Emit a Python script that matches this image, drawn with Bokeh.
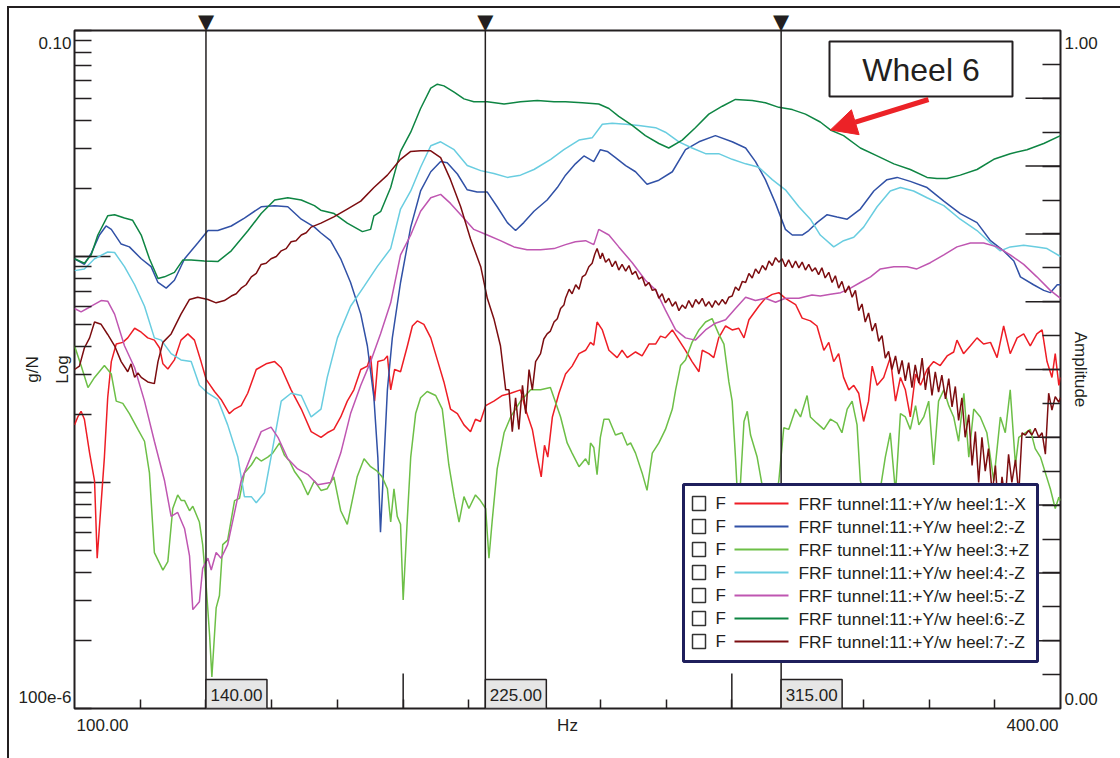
import math
import numpy as np
from bokeh.plotting import figure
from bokeh.models import (Range1d, LinearAxis, LinearScale, FixedTicker, Span, Label,
                          BoxAnnotation, Arrow, NormalHead)
from bokeh.embed import file_html
from bokeh.resources import INLINE

# ---------------------------------------------------------------------------
# FRF magnitudes: (frequency in Hz, level in dB re 1 g/N)
# ---------------------------------------------------------------------------
heel1 = [
    (100.0, -54.9), (101.0, -54.2), (102.0, -53.7), (103.0, -54.4), (104.6, -57.4), (106.1, -59.85),
    (106.9, -66.7), (107.9, -62.65), (109.1, -57.75), (110.1, -52.5), (111.2, -49.3), (112.7, -47.75),
    (114.7, -47.6), (116.2, -47.2), (118.3, -46.35), (120.3, -46.7), (122.3, -47.2), (124.3, -47.4),
    (125.9, -48.1), (126.9, -49.5), (128.4, -49.95), (130.4, -49.15), (132.4, -47.4), (134.5, -46.85),
    (136.5, -47.4), (138.5, -49.3), (140.1, -50.9), (142.6, -51.95), (144.6, -52.65), (147.1, -53.9),
    (148.7, -53.5), (150.7, -53.2), (152.7, -52.1), (155.3, -50.0), (158.3, -49.5), (160.9, -49.3),
    (162.9, -49.85), (165.9, -51.8), (169.0, -53.5), (172.0, -55.5), (175.0, -56.0), (176.9, -55.6),
    (178.9, -55.3), (181.0, -54.2), (183.0, -52.8), (185.0, -51.8), (187.1, -50.0), (189.1, -49.7),
    (190.1, -48.8), (191.3, -52.8), (192.3, -49.3), (194.2, -49.15), (195.2, -48.8), (196.2, -51.8),
    (197.4, -50.0), (199.2, -50.2), (201.3, -47.9), (202.8, -46.15), (204.3, -45.7), (206.3, -46.0),
    (208.4, -47.2), (210.4, -49.15), (212.4, -51.1), (214.4, -53.5), (216.5, -53.9), (218.5, -54.9),
    (220.5, -55.5), (222.0, -54.4), (223.5, -54.6), (225.1, -53.2), (227.6, -52.8), (230.2, -52.3),
    (232.7, -52.1), (235.7, -51.8), (237.2, -53.5), (239.3, -55.3), (240.8, -57.75), (242.0, -59.5),
    (243.0, -56.7), (244.0, -57.75), (245.4, -54.2), (247.4, -52.1), (249.4, -50.4), (251.4, -49.7),
    (253.5, -48.6), (255.5, -48.3), (257.0, -47.6), (258.0, -47.85), (259.0, -45.8), (260.6, -46.5),
    (262.6, -48.3), (265.1, -48.95), (266.6, -48.3), (268.2, -48.95), (270.7, -48.45), (272.7, -48.8),
    (274.8, -47.75), (276.8, -47.75), (278.3, -47.05), (279.8, -47.2), (281.9, -46.5), (283.9, -47.4),
    (285.9, -48.3), (287.9, -49.3), (290.0, -50.2), (291.0, -48.3), (293.0, -48.6), (294.5, -48.95),
    (296.0, -47.2), (298.1, -46.15), (300.1, -46.5), (302.1, -46.35), (303.7, -47.2), (305.2, -45.6),
    (308.2, -44.4), (310.2, -43.7), (312.3, -43.35), (314.3, -43.2), (316.3, -43.7), (319.4, -44.25),
    (321.4, -45.45), (323.9, -45.7), (325.9, -46.15), (328.0, -48.3), (329.5, -47.6), (331.0, -49.3),
    (332.5, -48.6), (334.0, -50.7), (335.6, -51.8), (337.1, -51.4), (338.6, -52.1), (340.1, -54.6),
    (341.6, -52.8), (342.7, -49.7), (344.2, -51.4), (346.2, -50.7), (348.2, -48.95), (349.8, -52.8),
    (351.3, -50.7), (352.8, -51.8), (354.3, -54.2), (355.9, -50.4), (357.4, -51.4), (359.4, -50.0),
    (361.4, -49.3), (363.4, -49.65), (365.5, -48.8), (367.5, -48.45), (368.5, -47.4), (370.5, -48.6),
    (372.6, -47.9), (374.6, -47.2), (376.6, -47.75), (378.7, -47.6), (380.7, -48.95), (382.7, -46.15),
    (384.7, -48.6), (386.8, -47.2), (388.8, -46.85), (390.8, -47.9), (392.8, -46.85), (394.4, -46.5),
    (395.9, -49.3), (397.4, -50.7), (398.4, -48.6), (399.5, -51.4), (400.0, -50.7),
]

heel2 = [
    (100.0, -40.2), (103.0, -40.7), (105.1, -39.7), (107.6, -38.1), (109.6, -37.3), (111.2, -37.6),
    (114.2, -38.9), (116.7, -39.15), (120.3, -40.2), (123.3, -40.9), (125.4, -42.3), (127.9, -42.8),
    (130.4, -42.1), (133.5, -40.2), (137.5, -38.8), (140.6, -37.7), (143.6, -37.7), (147.7, -37.3),
    (151.7, -36.6), (156.8, -35.6), (160.9, -35.5), (164.9, -35.6), (169.0, -36.7), (173.0, -37.4),
    (174.9, -37.9), (177.9, -38.6), (181.0, -40.2), (184.0, -42.3), (187.1, -45.1), (189.1, -47.9),
    (191.1, -52.5), (192.3, -57.8), (193.1, -64.4), (194.2, -57.8), (195.2, -51.8), (196.7, -47.2),
    (199.2, -42.3), (202.3, -37.4), (205.3, -34.2), (208.4, -32.5), (211.4, -31.6), (213.4, -31.7),
    (216.5, -32.7), (219.5, -34.1), (222.5, -34.3), (225.6, -34.3), (228.6, -35.6), (231.7, -37.0),
    (234.2, -37.7), (236.7, -37.0), (239.8, -36.0), (243.8, -35.0), (246.9, -33.9), (249.4, -32.8),
    (252.4, -31.8), (255.0, -31.1), (258.0, -31.6), (260.0, -30.55), (262.1, -30.7), (264.6, -31.25),
    (267.7, -31.95), (270.7, -32.5), (274.2, -33.6), (277.8, -33.25), (281.9, -32.5), (285.9, -30.55),
    (290.0, -29.85), (295.0, -29.3), (300.1, -29.85), (304.2, -30.4), (307.2, -31.6), (310.2, -33.2),
    (313.3, -35.3), (316.3, -37.6), (318.4, -38.1), (321.4, -38.1), (323.4, -37.7), (325.9, -37.0),
    (329.0, -36.3), (332.0, -36.5), (335.1, -36.7), (339.1, -35.8), (343.2, -34.2), (347.2, -33.2),
    (350.3, -33.0), (354.3, -33.35), (359.4, -33.9), (364.5, -35.1), (369.5, -36.2), (374.6, -37.0),
    (378.7, -38.6), (382.7, -39.5), (385.8, -40.4), (387.8, -41.8), (391.8, -42.5), (394.9, -43.0),
    (396.9, -43.2), (399.0, -42.5), (400.0, -42.5),
]

heel3 = [
    (100.0, -47.9), (102.0, -49.65), (104.1, -51.6), (106.1, -50.7), (109.1, -49.65), (111.2, -50.4),
    (112.7, -52.8), (114.7, -53.0), (116.7, -53.9), (119.3, -55.3), (121.3, -56.35), (122.8, -59.15),
    (124.3, -66.2), (126.9, -67.75), (128.4, -67.0), (129.9, -62.3), (131.4, -61.1), (132.5, -61.6),
    (133.5, -61.6), (135.0, -62.5), (136.0, -62.1), (138.0, -63.5), (139.0, -65.5), (140.1, -69.3),
    (141.1, -73.5), (141.8, -77.2), (143.1, -71.1), (144.1, -70.0), (145.1, -65.5), (146.6, -65.1),
    (148.7, -61.6), (150.2, -61.4), (151.7, -59.15), (153.8, -58.45), (155.3, -57.75), (156.8, -58.1),
    (158.8, -57.75), (160.3, -57.4), (162.4, -56.5), (163.9, -57.6), (165.4, -58.1), (166.9, -59.0),
    (169.0, -59.85), (171.0, -61.1), (173.0, -59.85), (175.0, -60.7), (176.9, -60.55), (178.9, -59.5),
    (181.0, -62.5), (183.0, -63.7), (184.5, -61.6), (186.0, -59.5), (188.1, -57.9), (190.1, -58.6),
    (192.1, -59.0), (193.6, -59.5), (195.2, -60.55), (196.2, -63.5), (197.2, -60.55), (198.2, -63.0),
    (199.2, -63.7), (200.0, -70.4), (201.3, -63.0), (202.3, -57.75), (203.8, -53.9), (205.3, -52.5),
    (207.3, -51.95), (209.9, -52.3), (211.9, -53.5), (213.9, -58.45), (215.5, -61.25), (217.0, -63.5),
    (218.5, -61.25), (220.0, -62.3), (222.0, -61.1), (223.5, -61.6), (225.1, -62.3), (226.1, -66.7),
    (227.1, -63.35), (228.6, -58.8), (230.7, -55.6), (232.7, -54.2), (235.7, -52.8), (238.8, -51.8),
    (241.8, -51.8), (244.8, -51.6), (247.9, -54.2), (249.9, -56.5), (251.4, -57.4), (253.5, -58.6),
    (255.5, -57.9), (256.5, -58.45), (257.0, -56.5), (258.0, -56.9), (259.0, -59.3), (260.0, -56.0),
    (261.1, -54.4), (262.6, -54.4), (264.6, -55.8), (266.6, -55.6), (268.2, -56.7), (269.2, -56.5),
    (270.7, -57.4), (272.7, -59.15), (274.2, -60.7), (275.8, -57.4), (277.8, -56.5), (279.8, -55.3),
    (281.9, -53.5), (282.9, -51.8), (284.4, -49.65), (285.9, -49.15), (287.9, -47.6), (290.0, -46.5),
    (292.0, -45.8), (294.0, -45.5), (296.0, -46.85), (297.6, -47.75), (299.1, -51.1), (300.1, -52.8),
    (301.1, -57.75), (301.6, -60.55), (302.6, -60.2), (303.7, -54.6), (304.7, -53.7), (305.7, -55.8),
    (307.7, -57.75), (309.2, -60.2), (311.0, -63.0), (312.8, -62.0), (314.3, -59.85), (315.8, -55.15),
    (317.3, -55.3), (319.4, -53.5), (320.9, -54.2), (322.9, -52.3), (323.9, -54.2), (325.9, -54.75),
    (328.0, -55.3), (330.0, -54.4), (332.0, -54.75), (333.5, -55.6), (335.1, -53.5), (336.6, -52.8),
    (338.1, -54.9), (339.1, -59.85), (340.6, -61.3), (343.0, -62.0), (345.2, -60.55), (346.7, -57.75),
    (348.2, -55.6), (349.8, -60.9), (351.3, -53.9), (352.8, -54.2), (354.3, -55.3), (355.9, -53.2),
    (356.9, -54.9), (358.4, -54.2), (359.9, -52.8), (361.4, -58.45), (362.9, -52.8), (364.5, -51.8),
    (366.0, -53.2), (367.5, -54.2), (369.0, -56.35), (370.6, -52.1), (372.1, -57.75), (373.6, -53.5),
    (375.6, -54.2), (377.6, -55.6), (379.7, -59.85), (381.7, -54.2), (383.2, -55.6), (384.7, -51.8),
    (386.3, -58.45), (387.3, -56.0), (389.3, -55.6), (390.8, -55.3), (392.3, -57.0), (393.9, -57.75),
    (395.4, -59.15), (396.9, -60.55), (398.4, -62.3), (399.5, -61.3), (400.0, -61.6),
]

heel4 = [
    (100.0, -41.25), (103.0, -41.1), (106.1, -40.2), (110.1, -39.6), (112.2, -39.65), (115.2, -40.9),
    (118.3, -42.5), (121.3, -44.4), (124.3, -47.2), (126.4, -47.4), (129.4, -48.6), (132.4, -49.15),
    (135.5, -49.3), (138.0, -51.4), (140.6, -52.1), (143.6, -52.65), (146.6, -54.9), (149.7, -57.75),
    (151.7, -61.25), (153.8, -61.25), (155.3, -61.8), (157.8, -60.9), (159.8, -57.75), (162.9, -52.8),
    (165.9, -52.1), (169.0, -52.3), (172.0, -54.2), (175.0, -53.5), (176.9, -50.7), (180.0, -47.2),
    (184.0, -44.4), (188.1, -42.65), (192.1, -40.9), (196.2, -39.3), (199.2, -35.8), (202.3, -34.2),
    (205.3, -32.1), (208.4, -30.2), (211.4, -29.85), (215.5, -30.55), (219.5, -31.95), (223.6, -32.4),
    (227.6, -32.65), (231.7, -33.0), (235.7, -32.8), (239.8, -32.3), (244.9, -31.4), (248.9, -30.55),
    (253.5, -29.7), (257.5, -29.5), (260.6, -28.3), (263.6, -28.2), (267.7, -28.3), (271.7, -28.4),
    (276.8, -28.6), (279.8, -29.0), (283.9, -29.85), (287.9, -30.4), (292.0, -30.9), (296.0, -30.9),
    (300.1, -31.4), (304.2, -31.8), (308.2, -32.1), (312.3, -33.2), (316.3, -34.1), (320.4, -35.6),
    (323.9, -36.7), (326.9, -38.1), (331.0, -39.15), (334.0, -38.6), (337.1, -38.3), (340.1, -37.4),
    (344.2, -35.6), (348.2, -34.2), (351.3, -33.9), (355.3, -34.2), (359.4, -34.8), (364.5, -35.5),
    (369.5, -36.7), (374.6, -37.7), (378.7, -38.8), (381.7, -39.5), (384.7, -39.15), (388.8, -39.0),
    (392.8, -39.15), (395.9, -39.3), (400.0, -40.0),
]

heel5 = [
    (100.0, -44.6), (102.0, -44.9), (105.1, -44.4), (108.1, -43.9), (110.1, -43.95), (112.2, -45.1),
    (115.2, -47.9), (118.3, -49.85), (121.3, -52.8), (124.3, -56.35), (127.4, -59.85), (129.4, -63.0),
    (131.4, -62.65), (133.5, -64.1), (135.0, -66.5), (136.0, -71.25), (138.0, -70.55), (139.0, -67.6),
    (140.6, -66.7), (141.6, -67.75), (143.1, -66.2), (144.6, -66.7), (146.6, -65.5), (148.7, -62.65),
    (150.7, -59.85), (153.8, -57.6), (156.8, -55.5), (159.8, -55.1), (161.9, -56.0), (164.9, -57.9),
    (167.9, -58.8), (171.0, -59.3), (174.0, -60.2), (177.9, -60.0), (181.0, -57.4), (184.0, -53.9),
    (187.1, -51.4), (190.1, -49.3), (193.1, -46.85), (196.2, -44.1), (199.2, -39.85), (202.3, -38.1),
    (205.3, -36.0), (208.4, -34.8), (211.4, -34.5), (214.4, -35.3), (217.5, -36.3), (221.5, -37.6),
    (225.6, -38.1), (229.6, -38.6), (233.7, -39.15), (237.7, -39.4), (241.8, -39.4), (245.9, -39.3),
    (249.4, -38.95), (252.4, -38.7), (255.5, -38.6), (258.0, -38.95), (259.5, -37.6), (262.6, -38.1),
    (265.6, -39.15), (269.7, -40.55), (273.7, -42.1), (276.8, -42.95), (279.8, -44.75), (282.9, -46.5),
    (285.9, -47.2), (288.9, -47.4), (292.0, -46.5), (295.0, -45.9), (298.1, -45.6), (301.1, -44.6),
    (304.2, -43.6), (307.2, -43.9), (310.2, -43.7), (313.3, -44.05), (316.3, -43.7), (320.4, -43.7),
    (324.4, -43.4), (326.9, -43.5), (330.0, -43.35), (333.1, -43.2), (336.1, -42.8), (339.1, -42.3),
    (342.2, -41.8), (345.2, -41.1), (349.3, -40.9), (353.3, -40.9), (356.3, -41.1), (360.4, -40.55),
    (364.5, -39.85), (368.5, -39.15), (372.6, -38.8), (376.6, -38.8), (380.7, -39.15), (384.7, -39.85),
    (388.8, -40.7), (392.8, -41.8), (396.9, -43.0), (400.0, -43.7),
]

heel6 = [
    (100.0, -40.2), (103.0, -40.6), (105.1, -39.85), (107.1, -38.1), (110.1, -36.4), (112.2, -36.3),
    (115.2, -36.6), (117.7, -36.8), (120.3, -38.1), (122.8, -40.2), (125.4, -41.95), (127.4, -41.8),
    (130.4, -41.4), (133.0, -40.3), (135.5, -40.3), (139.5, -40.4), (143.6, -40.45), (147.7, -39.5),
    (152.7, -37.75), (156.8, -36.2), (160.9, -35.0), (164.9, -34.8), (169.0, -35.0), (173.0, -35.5),
    (174.9, -35.9), (179.0, -36.2), (183.0, -37.05), (187.6, -37.8), (190.1, -37.6), (191.1, -36.4),
    (193.2, -36.0), (196.2, -33.9), (199.2, -30.7), (202.3, -29.0), (205.3, -26.9), (208.4, -25.1),
    (210.4, -24.75), (212.4, -24.9), (215.5, -25.45), (218.5, -26.05), (221.5, -26.3), (225.6, -26.3),
    (230.7, -26.5), (235.7, -26.3), (240.8, -26.2), (245.9, -26.3), (249.4, -26.3), (254.5, -26.4),
    (259.5, -26.5), (262.6, -26.9), (265.6, -27.6), (269.7, -28.4), (273.7, -29.3), (277.8, -30.0),
    (280.8, -30.4), (284.9, -29.7), (288.9, -28.6), (293.0, -27.4), (297.1, -26.7), (301.1, -26.1),
    (306.2, -26.2), (310.2, -26.4), (314.3, -26.8), (318.4, -27.0), (322.4, -27.4), (326.9, -28.1),
    (330.0, -28.8), (334.0, -29.3), (339.1, -30.4), (344.2, -31.1), (349.3, -31.8), (354.3, -32.3),
    (359.4, -33.0), (362.4, -33.1), (365.5, -33.1), (369.5, -32.8), (374.6, -32.3), (379.7, -31.4),
    (384.7, -30.9), (389.8, -30.55), (394.9, -30.0), (400.0, -29.3),
]

heel7 = [
    (100.0, -50.0), (101.5, -49.7), (103.0, -48.1), (104.6, -47.2), (106.1, -45.8), (108.1, -46.0),
    (110.1, -46.9), (112.2, -47.9), (114.2, -49.3), (116.2, -50.2), (117.2, -49.5), (118.3, -50.7),
    (119.3, -50.3), (120.3, -50.7), (122.3, -51.1), (124.3, -51.25), (125.4, -49.3), (126.9, -47.6),
    (129.4, -46.85), (132.4, -45.1), (135.0, -43.8), (137.5, -43.6), (140.6, -43.8), (143.1, -44.1),
    (145.6, -43.9), (147.7, -43.5), (149.2, -43.3), (150.7, -42.8), (152.2, -42.5), (153.8, -41.8),
    (155.3, -41.5), (156.8, -40.7), (158.3, -40.6), (159.8, -40.2), (161.4, -40.0), (162.9, -39.5),
    (164.4, -39.3), (165.9, -38.7), (167.4, -38.6), (169.0, -38.1), (170.5, -37.9), (172.0, -37.4),
    (175.0, -37.05), (178.9, -36.5), (183.0, -35.8), (187.1, -35.1), (191.1, -33.9), (195.2, -32.8),
    (199.2, -31.4), (202.3, -30.7), (205.3, -30.65), (208.4, -30.65), (211.4, -31.25), (214.4, -33.2),
    (217.5, -35.6), (220.5, -38.45), (223.6, -40.9), (225.6, -43.7), (227.6, -45.5), (229.6, -47.9),
    (231.2, -51.8), (232.2, -51.8), (233.2, -55.5), (234.2, -52.5), (235.2, -55.3), (236.3, -51.4),
    (237.3, -53.9), (238.3, -50.0), (239.3, -51.8), (240.3, -49.3), (241.8, -48.6), (242.8, -47.3),
    (243.8, -46.85), (244.8, -46.6), (245.9, -45.8), (246.9, -45.5), (247.9, -44.6), (248.9, -44.3),
    (249.4, -43.7), (250.5, -42.9), (251.4, -43.3), (252.5, -42.5), (253.5, -42.9), (254.5, -41.8),
    (255.5, -41.6), (256.5, -40.9), (257.5, -40.6), (258.3, -39.8), (259.0, -39.3), (260.0, -40.2),
    (260.6, -39.7), (261.6, -40.5), (262.6, -40.2), (263.6, -40.9), (264.6, -40.4), (265.6, -41.2),
    (266.6, -40.7), (267.7, -41.3), (268.7, -40.8), (269.7, -41.6), (270.7, -41.3), (271.7, -42.0),
    (272.7, -41.8), (273.7, -42.6), (274.8, -42.3), (275.8, -43.0), (276.8, -42.9), (277.8, -43.7),
    (278.8, -43.3), (279.8, -44.1), (280.8, -43.7), (281.9, -44.4), (282.9, -44.0), (283.9, -44.8),
    (284.9, -44.3), (285.9, -44.6), (286.9, -43.9), (288.0, -44.5), (289.0, -43.8), (290.0, -44.2),
    (291.0, -43.7), (292.0, -44.4), (293.0, -44.0), (294.0, -44.5), (295.0, -43.9), (296.0, -44.3),
    (297.1, -43.8), (298.1, -44.2), (299.1, -43.6), (300.1, -43.5), (301.1, -42.7), (302.1, -43.0),
    (303.2, -42.2), (304.2, -42.3), (305.2, -41.5), (306.2, -41.9), (307.2, -41.1), (308.2, -41.5),
    (309.3, -40.8), (310.3, -41.2), (311.3, -40.4), (312.3, -40.8), (313.3, -40.1), (314.3, -40.5),
    (315.3, -40.2), (316.3, -40.9), (317.3, -40.3), (318.4, -41.0), (319.4, -40.4), (320.4, -41.0),
    (321.4, -40.5), (322.4, -41.2), (323.4, -40.7), (324.4, -41.3), (325.4, -41.0), (326.4, -41.6),
    (327.4, -41.0), (328.4, -41.9), (329.5, -41.4), (330.5, -42.3), (331.5, -41.7), (332.5, -42.8),
    (333.5, -42.2), (334.5, -43.2), (335.6, -42.6), (336.6, -43.6), (337.6, -43.0), (338.6, -44.8),
    (339.6, -44.2), (340.6, -45.8), (341.6, -45.0), (342.7, -46.6), (343.7, -45.9), (344.7, -47.5),
    (345.7, -47.0), (346.7, -49.0), (347.7, -48.4), (348.7, -50.0), (349.8, -48.8), (350.8, -50.4),
    (351.8, -49.2), (352.8, -51.0), (353.8, -49.4), (354.8, -51.6), (355.8, -49.6), (356.9, -51.2),
    (357.9, -49.0), (358.9, -51.8), (359.9, -49.8), (360.9, -52.3), (361.9, -50.2), (362.9, -52.0),
    (363.9, -50.5), (365.0, -52.6), (366.0, -50.8), (367.0, -53.3), (368.0, -51.5), (369.0, -54.5),
    (370.0, -52.5), (371.0, -56.0), (372.1, -54.0), (373.1, -58.5), (374.1, -55.5), (375.1, -60.0),
    (376.1, -56.0), (377.1, -59.0), (378.1, -57.0), (379.2, -61.0), (380.2, -58.5), (381.2, -63.0),
    (382.2, -59.5), (383.2, -61.5), (384.2, -57.5), (385.2, -60.0), (386.3, -58.0), (387.3, -61.0),
    (388.3, -55.6), (389.3, -55.8), (390.3, -55.4), (391.3, -55.8), (392.3, -55.2), (393.4, -56.0),
    (394.4, -55.6), (395.4, -57.5), (396.4, -52.1), (397.4, -53.6), (398.4, -52.4), (399.5, -52.9),
    (400.0, -52.5),
]

LABELS = [
    "FRF tunnel:11:+Y/w heel:1:-X",
    "FRF tunnel:11:+Y/w heel:2:-Z",
    "FRF tunnel:11:+Y/w heel:3:+Z",
    "FRF tunnel:11:+Y/w heel:4:-Z",
    "FRF tunnel:11:+Y/w heel:5:-Z",
    "FRF tunnel:11:+Y/w heel:6:-Z",
    "FRF tunnel:11:+Y/w heel:7:-Z",
]
COLORS = ["#ee1d25", "#3151a6", "#6dbf47", "#69cde0", "#bf56b1", "#0e8543", "#7c0d10"]
TRACES = [heel1, heel2, heel3, heel4, heel5, heel6, heel7]

CURSORS = [140.0, 225.0, 315.0]
CALLOUT_TEXT = "Wheel 6"
CALLOUT_FREQ = 330.0

X_MIN, X_MAX = 100.0, 400.0
Y_MIN, Y_MAX = 1e-4, 0.1
AMP_MIN, AMP_MAX = 0.0, 1.0

# ---------------------------------------------------------------------------
# canvas geometry (pixels) and helpers to place decorations
# ---------------------------------------------------------------------------
W, H = 1120, 758
FL, FR, FT, FB = 74, 1060, 30, 708
INK = "#231f20"
FONT = "Liberation Sans"
FS = "17px"
HZ_PER_PX = (X_MAX - X_MIN) / (FR - FL)
DEC_PER_PX = (math.log10(Y_MAX) - math.log10(Y_MIN)) / (FB - FT)
AMP_PER_PX = (AMP_MAX - AMP_MIN) / (FB - FT)


def sx(px):
    return X_MIN + (px - FL) * HZ_PER_PX


def sy(py):
    return 10 ** (math.log10(Y_MAX) - (py - FT) * DEC_PER_PX)


def text(x, y, s, size=FS, align="left", baseline="middle", color=INK):
    p.add_layout(Label(x=x, y=y, text=s, text_font=FONT, text_font_size=size,
                       text_color=color, text_align=align, text_baseline=baseline))


p = figure(width=W, height=H, x_range=Range1d(X_MIN, X_MAX), y_range=Range1d(Y_MIN, Y_MAX),
           y_axis_type="log", output_backend="svg", toolbar_location=None,
           min_border_left=FL, min_border_right=W - FR, min_border_top=FT,
           min_border_bottom=H - FB, background_fill_color="white",
           border_fill_color=None, outline_line_color=INK, outline_line_width=2)
# page frame drawn behind the (transparent) border area
p.styles = {"background-color": "white",
            "box-shadow": "inset 7px 6px 0 0 white, inset 9px 8px 0 0 #231f20"}
p.xgrid.visible = False
p.ygrid.visible = False

# end-of-scale label positions, a little inside the frame corners
y_top_lbl = round(sy(42), 5)
y_bot_lbl = round(sy(697), 8)
a_top_lbl = round(AMP_MAX - 12 * AMP_PER_PX, 4)
a_bot_lbl = round(AMP_MIN + 10 * AMP_PER_PX, 4)
x_lft_lbl = round(sx(102), 2)
x_rgt_lbl = round(sx(1032), 2)
x_mid_lbl = round((X_MIN + X_MAX) / 2, 2)

decades = [1e-4, 1e-3, 1e-2, 1e-1]
log_minor = decades + [m * d for d in decades[:-1] for m in range(2, 10)]

# left: logarithmic g/N axis
ly = p.yaxis[0]
ly.ticker = FixedTicker(ticks=[y_bot_lbl, y_top_lbl], minor_ticks=log_minor)
ly.major_label_overrides = {y_top_lbl: "0.10", y_bot_lbl: "100e-6"}
ly.axis_label = "g/N\nLog"

# bottom: frequency axis
bx = p.xaxis[0]
bx.ticker = FixedTicker(ticks=[x_lft_lbl, x_mid_lbl, x_rgt_lbl],
                        minor_ticks=list(range(120, 400, 20)))
bx.major_label_overrides = {x_lft_lbl: f"{X_MIN:.2f}", x_mid_lbl: "Hz", x_rgt_lbl: f"{X_MAX:.2f}"}

# right: linear amplitude axis
p.extra_y_ranges = {"amp": Range1d(AMP_MIN, AMP_MAX)}
p.extra_y_scales = {"amp": LinearScale()}
ry = LinearAxis(y_range_name="amp",
                ticker=FixedTicker(ticks=[a_bot_lbl, a_top_lbl],
                                   minor_ticks=[round(0.05 * k, 2) for k in range(1, 20)]),
                axis_label="Amplitude")
ry.major_label_overrides = {a_top_lbl: f"{AMP_MAX:.2f}", a_bot_lbl: f"{AMP_MIN:.2f}"}
p.add_layout(ry, "right")

# top: cursor markers
tx = LinearAxis(ticker=FixedTicker(ticks=CURSORS))
tx.major_label_overrides = {c: "\u25bc" for c in CURSORS}
p.add_layout(tx, "above")

for ax, minor in ((ly, 17), (bx, 9), (ry, 18), (tx, 0)):
    ax.axis_line_color = None
    ax.major_tick_line_color = None
    ax.major_tick_in = 0
    ax.major_tick_out = 0
    ax.minor_tick_in = minor
    ax.minor_tick_out = 0
    ax.minor_tick_line_color = INK if minor else None
    ax.minor_tick_line_width = 1.5
    ax.major_label_text_font = FONT
    ax.major_label_text_font_size = FS
    ax.major_label_text_color = INK
    ax.axis_label_text_font = FONT
    ax.axis_label_text_font_size = FS
    ax.axis_label_text_font_style = "normal"
    ax.axis_label_text_color = INK
ly.major_label_standoff = 3
ly.axis_label_standoff = -56
ly.axis_label_text_line_height = 1.55
bx.major_label_standoff = 7
ry.major_label_standoff = 4
ry.axis_label_standoff = -30
tx.major_label_standoff = -3
tx.major_label_text_font = "DejaVu Sans"
tx.major_label_text_font_size = "21px"

# longer ticks at decades / round values
p.segment(x0=X_MIN, x1=sx(110), y0=[1e-3, 1e-2], y1=[1e-3, 1e-2], line_color=INK, line_width=1.5)
p.segment(x0=[200, 300], x1=[200, 300], y0=Y_MIN, y1=sy(673), line_color=INK, line_width=1.5)
amp_major = [round(0.1 * k, 1) for k in range(1, 10)]
p.segment(x0=sx(1025), x1=X_MAX, y0=amp_major, y1=amp_major, line_color=INK, line_width=1.5,
          y_range_name="amp")

# measured traces
for pts, color in zip(TRACES, COLORS):
    freq = [f for f, _ in pts]
    mag = [10 ** (db / 20.0) for _, db in pts]
    p.line(freq, mag, line_color=color, line_width=1.5)

# cursors: vertical line with its value box at the bottom
for c in CURSORS:
    p.add_layout(Span(location=c, dimension="height", line_color=INK, line_width=1.5))
    p.add_layout(BoxAnnotation(left=c, right=c + 61 * HZ_PER_PX, bottom=Y_MIN, top=sy(679),
                               fill_color="#e6e6e6", fill_alpha=1, line_color=INK,
                               line_alpha=1, line_width=1.5))
    text(c + 30.5 * HZ_PER_PX, sy(694), f"{c:.2f}", align="center")

# legend panel
p.add_layout(BoxAnnotation(left=sx(683), right=sx(1037), top=sy(484), bottom=sy(661),
                           fill_color="white", fill_alpha=1, line_color="#1f1f5c",
                           line_alpha=1, line_width=3))
for i, (label, color) in enumerate(zip(LABELS, COLORS)):
    row = 503 + i * 23
    p.add_layout(BoxAnnotation(left=sx(692), right=sx(705), top=sy(row - 7), bottom=sy(row + 7),
                               fill_color="white", fill_alpha=1, line_color="#333333",
                               line_alpha=1, line_width=1.5))
    text(sx(715), sy(row), "F")
    p.segment(x0=[sx(734)], x1=[sx(788)], y0=[sy(row)], y1=[sy(row)],
              line_color=color, line_width=2, level="overlay")
    text(sx(798), sy(row), label, size="17.4px")

# callout pointing at the wheel 6 trace
p.add_layout(BoxAnnotation(left=sx(829), right=sx(1012), top=sy(41), bottom=sy(96),
                           fill_color="white", fill_alpha=1, line_color=INK,
                           line_alpha=1, line_width=2))
text(sx(920.5), sy(69), CALLOUT_TEXT, size="32px", align="center")
w6_freq = np.array([f for f, _ in heel6])
w6_db = np.array([d for _, d in heel6])
tip_y = 10 ** (np.interp(CALLOUT_FREQ, w6_freq, w6_db) / 20.0)
p.add_layout(Arrow(end=NormalHead(size=26, fill_color="#ec2227", line_color="#ec2227"),
                   x_start=sx(928), y_start=sy(99), x_end=CALLOUT_FREQ, y_end=float(tip_y),
                   line_color="#ec2227", line_width=5))

open("out.html", "w").write(file_html(p, INLINE))
